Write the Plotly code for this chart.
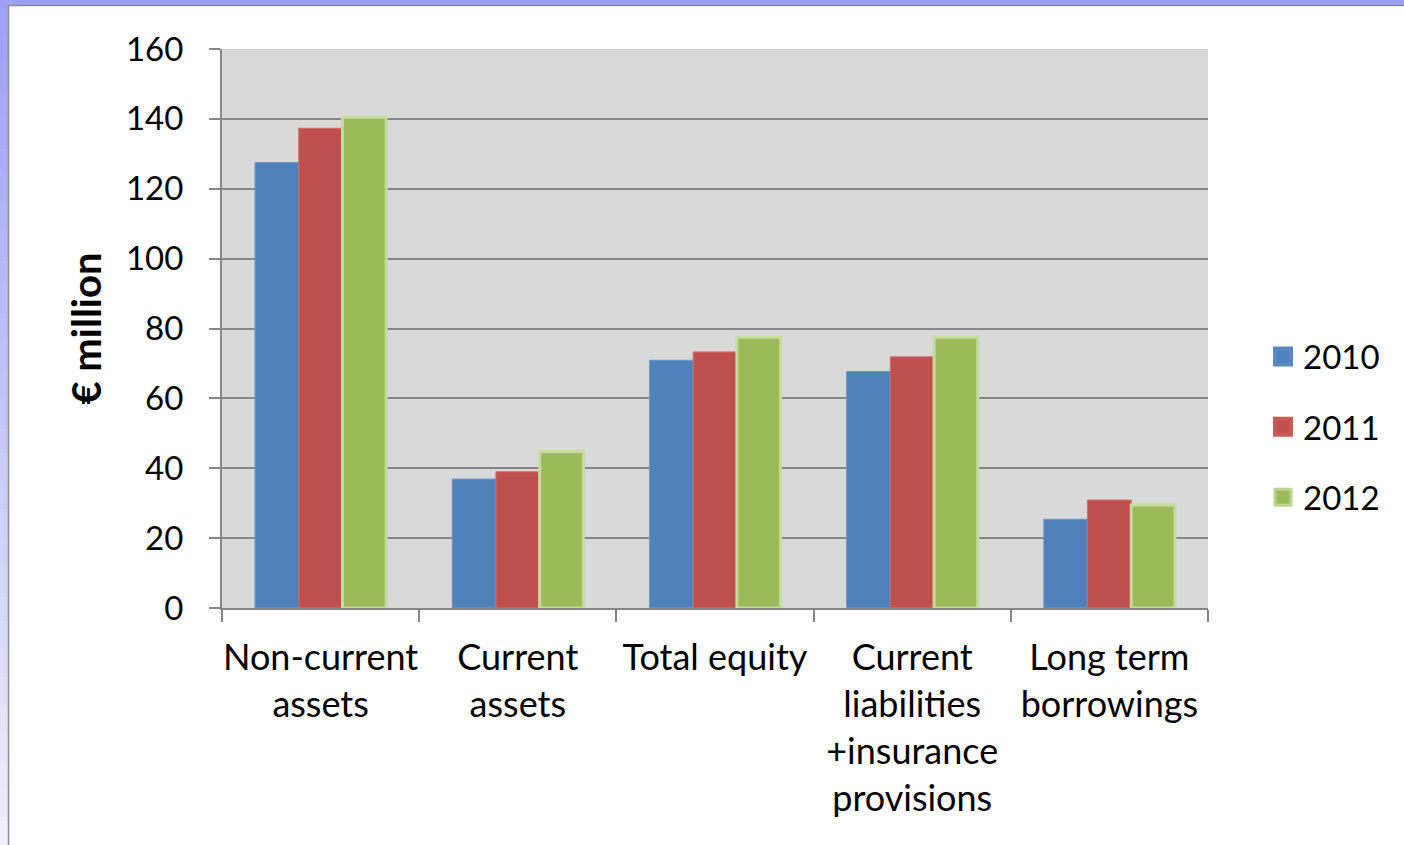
import plotly.graph_objects as go

categories = ["Non-current<br>assets", "Current<br>assets", "Total equity",
              "Current<br>liabilities<br>+insurance<br>provisions", "Long term<br>borrowings"]
years = ["2010", "2011", "2012"]
values_2010 = [127.5, 36.9, 70.9, 67.7, 25.4]
values_2011 = [137.3, 39.0, 73.3, 71.9, 30.9]
values_2012 = [140.5, 44.7, 77.5, 77.5, 29.5]
y_ticks = [0, 20, 40, 60, 80, 100, 120, 140, 160]

colors = ["#4f81bd", "#c0504d", "#9bbb59"]
outline = ["#6f97c9", "#cc6f6c", "#c7dba0"]
outline_w = [1, 1, 3]
legend_outline = ["#5a89c2", "#c55a57", "#bcd48f"]

W, H = 1404, 845
L, R, T, B = 222, 1208, 49, 608
FONT = "Lato"


def px_x(p):
    return (p - L) / (R - L)


def px_y(p):
    return (B - p) / (B - T)


fig = go.Figure()
series = [values_2010, values_2011, values_2012]
for i, (yr, vals) in enumerate(zip(years, series)):
    fig.add_trace(go.Bar(
        x=categories, y=vals, name=yr, showlegend=False,
        marker=dict(color=colors[i], line=dict(color=outline[i], width=outline_w[i])),
    ))
    # legend entries with larger square symbols
    fig.add_trace(go.Scatter(
        x=[None], y=[None], mode="markers", name=yr, legendgroup=yr,
        marker=dict(symbol="square", size=16, color=colors[i],
                    line=dict(color=legend_outline[i], width=4 if i < 2 else 3)),
    ))

shapes = []
# frame: top band and left gradient band
shapes.append(dict(type="rect", xref="paper", yref="paper", x0=px_x(0), x1=px_x(W),
                   y0=px_y(0), y1=px_y(5), fillcolor="#a0a0f6", line=dict(width=0), layer="below"))
n = 30
for k in range(n):
    y0p = 5 + k * (H - 5) / n
    y1p = 5 + (k + 1) * (H - 5) / n
    t = k / (n - 1)
    r = int(0xa0 + (0xee - 0xa0) * t)
    g = int(0xa0 + (0xee - 0xa0) * t)
    b = int(0xf6 + (0xfc - 0xf6) * t)
    shapes.append(dict(type="rect", xref="paper", yref="paper", x0=px_x(0), x1=px_x(8),
                       y0=px_y(y0p), y1=px_y(y1p + 0.5),
                       fillcolor=f"rgb({r},{g},{b})", line=dict(width=0), layer="below"))
shapes.append(dict(type="line", xref="paper", yref="paper", x0=px_x(8.5), x1=px_x(8.5),
                   y0=px_y(5), y1=px_y(H), line=dict(color="#8c8c8c", width=1.5), layer="below"))
shapes.append(dict(type="line", xref="paper", yref="paper", x0=px_x(8), x1=px_x(W),
                   y0=px_y(5.5), y1=px_y(5.5), line=dict(color="#8c8c8c", width=1.5), layer="below"))

fig.update_layout(
    width=W, height=H,
    margin=dict(l=L, r=W - R, t=T, b=H - B, autoexpand=False),
    paper_bgcolor="white",
    plot_bgcolor="#d9d9d9",
    barmode="group",
    bargap=0.335,
    bargroupgap=0,
    font=dict(family=FONT, size=33, color="black"),
    shapes=shapes,
    showlegend=True,
    legend=dict(
        x=px_x(1263), y=px_y(427), xanchor="left", yanchor="middle",
        font=dict(family=FONT, size=33, color="black"),
        traceorder="grouped", tracegroupgap=24.5,
        bgcolor="rgba(0,0,0,0)", itemsizing="trace",
    ),
    xaxis=dict(
        type="category",
        showgrid=False,
        showline=True, linecolor="#868686", linewidth=2,
        ticks="outside", tickson="boundaries", ticklen=12, tickwidth=2, tickcolor="#868686",
        tickfont=dict(family=FONT, size=36, color="black"),
        tickangle=0,
        ticklabelstandoff=17,
    ),
    yaxis=dict(
        range=[0, 160],
        tickvals=y_ticks,
        showgrid=True, gridcolor="#868686", gridwidth=2,
        showline=True, linecolor="#868686", linewidth=2,
        ticks="outside", ticklen=11, tickwidth=2, tickcolor="#868686",
        tickfont=dict(family=FONT, size=33, color="black"),
        ticklabelstandoff=19,
        zeroline=False,
        title=dict(text="<b>€ million</b>", font=dict(family=FONT, size=40, color="black"),
                   standoff=12),
    ),
)

fig.write_html("out.html")
